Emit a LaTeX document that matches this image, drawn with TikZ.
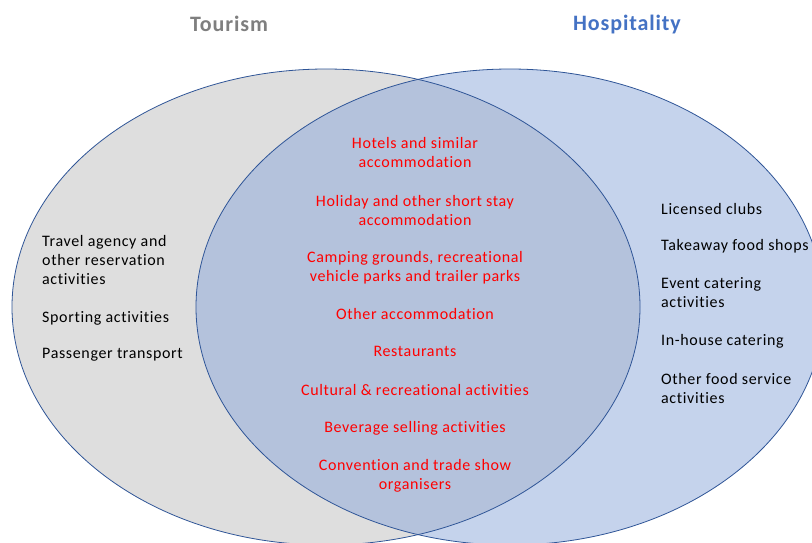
\documentclass[tikz,border=0pt]{standalone}
\usepackage{fontspec}
\setmainfont{Carlito}[LetterSpace=4, Ligatures=NoCommon]
\definecolor{tgray}{HTML}{DEDEDE}
\definecolor{hblue}{HTML}{C5D3EC}
\definecolor{ovl}{HTML}{B4C2DC}
\definecolor{edgeblue}{HTML}{2F5597}
\definecolor{titlegray}{HTML}{7F7F7F}
\definecolor{titleblue}{HTML}{4472C4}
\begin{document}
\begin{tikzpicture}[x=1pt,y=-1pt,
  title/.style={font=\fontsize{22}{26}\selectfont\bfseries, inner sep=0},
  side/.style={font=\fontsize{16}{19}\selectfont, align=left, anchor=west, inner sep=0, text=black},
  mid/.style={font=\fontsize{16}{19}\selectfont, align=center, anchor=center, inner sep=0, text=red},
  ring/.style={draw=edgeblue, line width=0.8pt}]
\clip (0,0) rectangle (812,542);
\fill[white] (0,0) rectangle (812,542);
% ellipses
\fill[tgray] (326,307) ellipse [x radius=314, y radius=238];
\fill[hblue] (510,307) ellipse [x radius=314, y radius=238];
\begin{scope}
  \clip (326,307) ellipse [x radius=314, y radius=238];
  \fill[ovl] (510,307) ellipse [x radius=314, y radius=238];
\end{scope}
\draw[ring] (326,307) ellipse [x radius=314, y radius=238];
\draw[ring] (510,307) ellipse [x radius=314, y radius=238];
% titles
\node[title, text=titlegray] (tour) at (229,24) {Tourism};
\node[title, text=titleblue] (hosp) at (627,25) {Hospitality};
% left
\node[side] (l1) at (42,260) {Travel agency and\\other reservation\\activities};
\node[side] (l2) at (42,318) {Sporting activities};
\node[side] (l3) at (42,355) {Passenger transport};
% right
\node[side] (r1) at (661,209) {Licensed clubs};
\node[side] (r2) at (661,246) {Takeaway food shops};
\node[side] (r3) at (661,293) {Event catering\\activities};
\node[side] (r4) at (661,341) {In-house catering};
\node[side] (r5) at (661,388) {Other food service\\activities};
% middle
\node[mid] (m1) at (415,152) {Hotels and similar\\accommodation};
\node[mid] (m2) at (415,210) {Holiday and other short stay\\accommodation};
\node[mid] (m3) at (415,268) {Camping grounds, recreational\\vehicle parks and trailer parks};
\node[mid] (m4) at (415,314) {Other accommodation};
\node[mid] (m5) at (415,351) {Restaurants};
\node[mid] (m6) at (415,390) {Cultural \& recreational activities};
\node[mid] (m7) at (415,428) {Beverage selling activities};
\node[mid] (m8) at (415,476) {Convention and trade show\\organisers};
\end{tikzpicture}
\end{document}
